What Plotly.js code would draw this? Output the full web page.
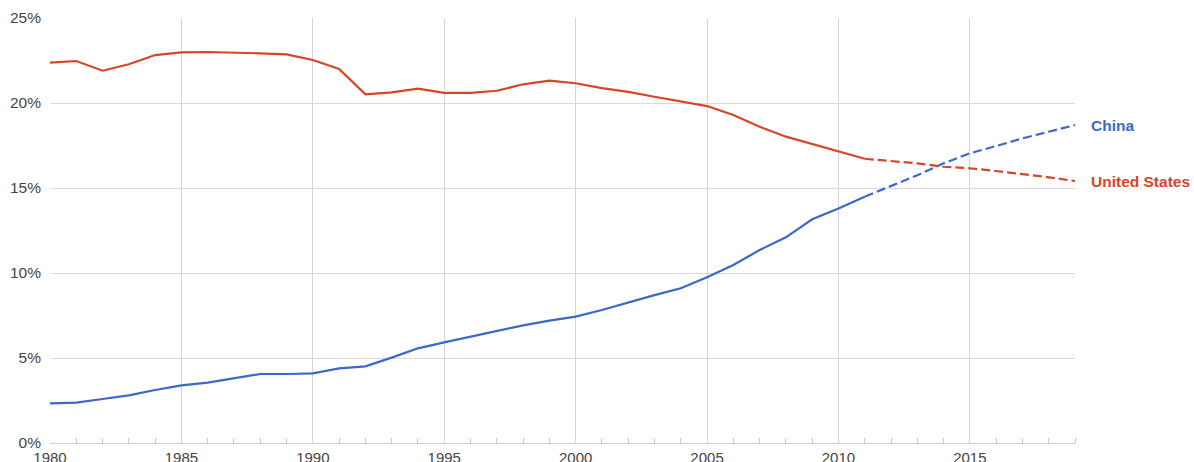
<!DOCTYPE html>
<html>
<head>
<meta charset="utf-8">
<script src="https://cdn.plot.ly/plotly-3.0.1.min.js"></script>
<style>html,body{margin:0;padding:0;background:#fff;}#chart{width:1194px;height:462px;}</style>
</head>
<body>
<div id="chart"></div>
<script>
const years = [1980,1981,1982,1983,1984,1985,1986,1987,1988,1989,1990,1991,1992,1993,1994,1995,1996,1997,1998,1999,2000,2001,2002,2003,2004,2005,2006,2007,2008,2009,2010,2011,2012,2013,2014,2015,2016,2017,2018,2019];
const china = [2.33,2.37,2.59,2.8,3.12,3.39,3.55,3.8,4.06,4.06,4.1,4.39,4.51,5.02,5.57,5.92,6.25,6.59,6.92,7.2,7.43,7.82,8.27,8.7,9.1,9.75,10.47,11.35,12.1,13.16,13.8,14.49,15.12,15.75,16.45,17.04,17.47,17.92,18.31,18.7];
const unitedStates = [22.37,22.47,21.9,22.28,22.82,22.98,23.0,22.98,22.92,22.86,22.53,22.0,20.51,20.62,20.84,20.6,20.6,20.72,21.1,21.31,21.16,20.88,20.65,20.37,20.08,19.82,19.29,18.6,18.02,17.58,17.15,16.72,16.59,16.45,16.25,16.16,16.0,15.82,15.63,15.41];
const lastActualYear = 2011;
const seriesNames = ["China","United States"];
const seriesColors = ["#3c68c8","#d8442a"];

const split = years.indexOf(lastActualYear);
const series = [china, unitedStates];
const traces = [];
series.forEach((vals, i) => {
  traces.push({x: years.slice(0, split+1), y: vals.slice(0, split+1), type:'scatter', mode:'lines',
    name: seriesNames[i], line:{color: seriesColors[i], width:2.2}, hoverinfo:'x+y'});
  traces.push({x: years.slice(split), y: vals.slice(split), type:'scatter', mode:'lines',
    name: seriesNames[i] + ' (projected)', line:{color: seriesColors[i], width:2.2, dash:'9px,4px'}, hoverinfo:'x+y'});
});

const annotations = series.map((vals, i) => ({
  x: years[years.length-1], y: vals[vals.length-1], xref:'x', yref:'y',
  text: '<b>' + seriesNames[i] + '</b>', showarrow:false, xanchor:'left', yanchor:'middle',
  xshift: 14, font:{family:'Liberation Sans, Arial, sans-serif', size:15.5, color: seriesColors[i]}
}));

const layout = {
  width:1194, height:462,
  margin:{l:50, r:119, t:18, b:19},
  paper_bgcolor:'#fff', plot_bgcolor:'#fff',
  showlegend:false,
  font:{family:'Liberation Sans, Arial, sans-serif', size:14, color:'#444'},
  xaxis:{range:[1980,2019], tickmode:'linear', tick0:1980, dtick:5, showgrid:true, gridcolor:'#d4d4d4', gridwidth:1,
    zeroline:false, showline:true, linecolor:'#cfcfcf', ticks:'', tickfont:{size:15, color:'#444'}, ticklabelstandoff:1,
    minor:{dtick:1, tick0:1980, ticks:'inside', ticklen:5, tickcolor:'#c8c8c8', showgrid:false}, fixedrange:true},
  yaxis:{range:[0,25], tickmode:'linear', tick0:0, dtick:5, ticksuffix:'%', showgrid:true, gridcolor:'#dadada', gridwidth:1,
    zeroline:false, showline:false, ticks:'', tickfont:{size:15.5, color:'#444'}, ticklabelstandoff:8, fixedrange:true},
  annotations: annotations
};

Plotly.newPlot('chart', traces, layout, {displayModeBar:false, staticPlot:true});
</script>
</body>
</html>
